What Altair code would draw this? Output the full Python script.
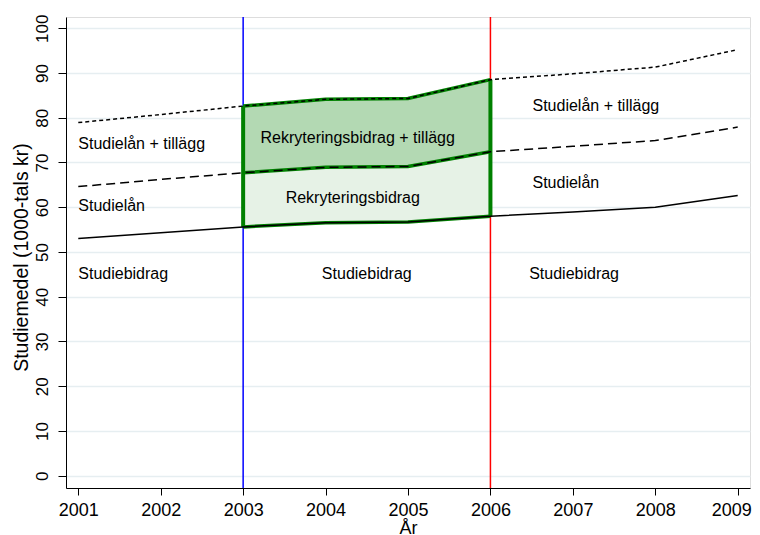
import altair as alt
import pandas as pd

years = [2001, 2002, 2003, 2004, 2005, 2006, 2007, 2008, 2009]
studiebidrag = [53.0, 54.3, 55.6, 56.5, 56.7, 58.0, 58.9, 60.0, 62.6]
studielan = [64.6, 66.2, 67.7, 68.9, 69.1, 72.4, 73.6, 74.9, 77.9]
studielan_tillagg = [78.9, 80.7, 82.6, 84.1, 84.3, 88.5, 89.8, 91.3, 95.2]

reform_years = [2003, 2006]
reform_colors = ["#0000ff", "#ff0000"]

left_texts = ["Studielån + tillägg", "Studielån", "Studiebidrag",
              "Studielån + tillägg", "Studielån", "Studiebidrag"]
left_x = [2001.0, 2001.0, 2001.0, 2006.51, 2006.51, 2006.47]
left_y = [72.9, 59.1, 44.0, 81.6, 64.3, 44.0]

center_texts = ["Rekryteringsbidrag + tillägg", "Rekryteringsbidrag", "Studiebidrag"]
center_x = [2004.39, 2004.33, 2004.5]
center_y = [74.4, 60.9, 44.0]

df = pd.DataFrame({"year": years, "bidrag": studiebidrag, "lan": studielan,
                   "tillagg": studielan_tillagg})
df_reform = df[(df.year >= 2003) & (df.year <= 2006)]
df_edges = df[df.year.isin(reform_years)]
df_vlines = pd.DataFrame({"year": reform_years, "color": reform_colors})
df_left = pd.DataFrame({"x": left_x, "y": left_y, "t": left_texts})
df_center = pd.DataFrame({"x": center_x, "y": center_y, "t": center_texts})

FONT = "Liberation Sans"
GREEN = "#008000"

xscale = alt.Scale(domain=[2000.851, 2009.149], nice=False, zero=False)
yscale = alt.Scale(domain=[-2.75, 102.5], nice=False, zero=False)

xaxis = alt.Axis(values=years, format="d", grid=False, title="År",
                 labelFontSize=18, labelFont=FONT, labelColor="black",
                 labelBaseline="top", labelPadding=6, tickSize=7,
                 labelOffset=alt.condition("datum.value == 2009",
                                           alt.value(-6.5), alt.value(0)),
                 tickColor="black", domainColor="black", labelOverlap=False,
                 labelBound=False, labelFlush=False,
                 titleFont=FONT, titleFontSize=18, titleFontWeight="normal",
                 titleColor="black", titleY=45.5, titleBaseline="alphabetic")
yaxis = alt.Axis(values=list(range(0, 101, 10)), grid=True,
                 gridColor="#e6eef1", gridWidth=1.6,
                 title="Studiemedel (1000-tals kr)",
                 labelFontSize=17, labelFont=FONT, labelColor="black",
                 labelAngle=270, labelAlign="center", labelBaseline="alphabetic",
                 labelPadding=11, tickSize=8, tickColor="black",
                 domainColor="black", titleFont=FONT, titleFontSize=19.5,
                 titleFontWeight="normal", titleColor="black", titleAngle=270,
                 titleX=-39, titleY=240, titleAlign="center",
                 titleBaseline="alphabetic")

base = alt.Chart(df)
reform = alt.Chart(df_reform)

light = reform.mark_area(color="#e6f2e6", opacity=1).encode(
    x=alt.X("year:Q", scale=xscale, axis=xaxis),
    y=alt.Y("bidrag:Q", scale=yscale, axis=yaxis),
    y2="lan:Q")
dark = reform.mark_area(color="#b3d9b3", opacity=1).encode(
    x="year:Q", y="lan:Q", y2="tillagg:Q")

vlines = alt.Chart(df_vlines).mark_rule(strokeWidth=1.5).encode(
    x="year:Q", color=alt.Color("color:N", scale=None))

g1 = reform.mark_line(color=GREEN, strokeWidth=3.5).encode(x="year:Q", y="bidrag:Q")
g2 = reform.mark_line(color=GREEN, strokeWidth=3.5).encode(x="year:Q", y="lan:Q")
g3 = reform.mark_line(color=GREEN, strokeWidth=3.5).encode(x="year:Q", y="tillagg:Q")
gedge = alt.Chart(df_edges).mark_rule(color=GREEN, strokeWidth=4).encode(
    x="year:Q", y="bidrag:Q", y2="tillagg:Q")

l1 = base.mark_line(color="black", strokeWidth=1.5).encode(x="year:Q", y="bidrag:Q")
l2 = base.mark_line(color="black", strokeWidth=1.5, strokeDash=[9, 5]).encode(
    x="year:Q", y="lan:Q")
l3 = base.mark_line(color="black", strokeWidth=1.5, strokeDash=[4, 3]).encode(
    x="year:Q", y="tillagg:Q")

tl = alt.Chart(df_left).mark_text(align="left", baseline="alphabetic", font=FONT,
                                   fontSize=16, color="black").encode(
    x="x:Q", y="y:Q", text="t:N")
tc = alt.Chart(df_center).mark_text(align="center", baseline="alphabetic", font=FONT,
                                     fontSize=16, color="black").encode(
    x="x:Q", y="y:Q", text="t:N")

chart = alt.layer(light, dark, vlines, g1, g2, g3, gedge, l1, l2, l3, tl, tc).properties(
    width=684, height=471,
    autosize=alt.AutoSizeParams(type="none"),
    padding={"left": 58, "top": 9, "right": 2, "bottom": 48},
).configure_view(stroke=None).configure(background="white")

chart.save("out.html", embed_options={"renderer": "svg", "actions": False})
